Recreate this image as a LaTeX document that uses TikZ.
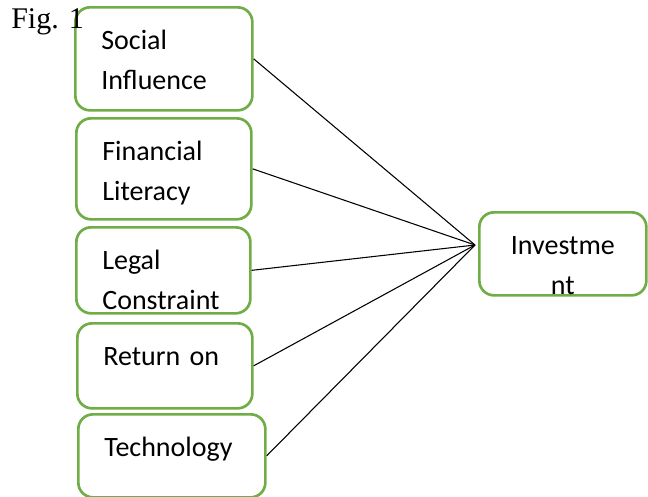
\documentclass[tikz,border=0pt]{standalone}
\usepackage{fontspec}
\setmainfont{Liberation Serif}
\newfontfamily\boxfont{Carlito}
\definecolor{boxgreen}{RGB}{112,173,71}

\begin{document}
\begin{tikzpicture}[x=0.75pt,y=-0.75pt]
  \useasboundingbox (0,0) rectangle (648,496);

  % Nodes
  \begin{scope}[every node/.style={draw=boxgreen,line width=2pt,rounded corners=11pt,
      anchor=north west,inner xsep=19.5pt,inner ysep=0pt,text height=31.5pt,
      align=left,font=\boxfont\fontsize{21}{30}\selectfont}]
    \node[text width=93.75pt,text depth=45.75pt] (soc) at (74,6) {Social\\Influence};
    \node[text width=92.25pt,text depth=44.25pt] (fin) at (75,117) {Financial\\Literacy};
    \node[text width=91.5pt,text depth=33pt] (leg) at (75,226) {Legal\\Constraint};
    \node[text width=92.25pt,text depth=32.25pt] (ret) at (76,322) {Return on};
    \node[text width=101.25pt,text depth=30.75pt] (tech) at (77,413) {Technology};

    \node[text width=86.25pt,text depth=30.75pt,align=center] (inv) at (478,211) {Investme\\nt};
  \end{scope}

  \coordinate (hub) at (475,245);

  % Edges
  \begin{scope}[every edge/.style={draw,line width=0.8pt}]
    \path (soc.east) edge (hub);
    \path (fin.east) edge (hub);
    \path (leg.east) edge (hub);
    \path (ret.east) edge (hub);
    \path (tech.east) edge (hub);
  \end{scope}

  \node[anchor=base west,inner sep=0pt,font=\fontsize{22.5}{27}\selectfont] (fig) at (11,28) {Fig. 1};

\end{tikzpicture}
\end{document}
